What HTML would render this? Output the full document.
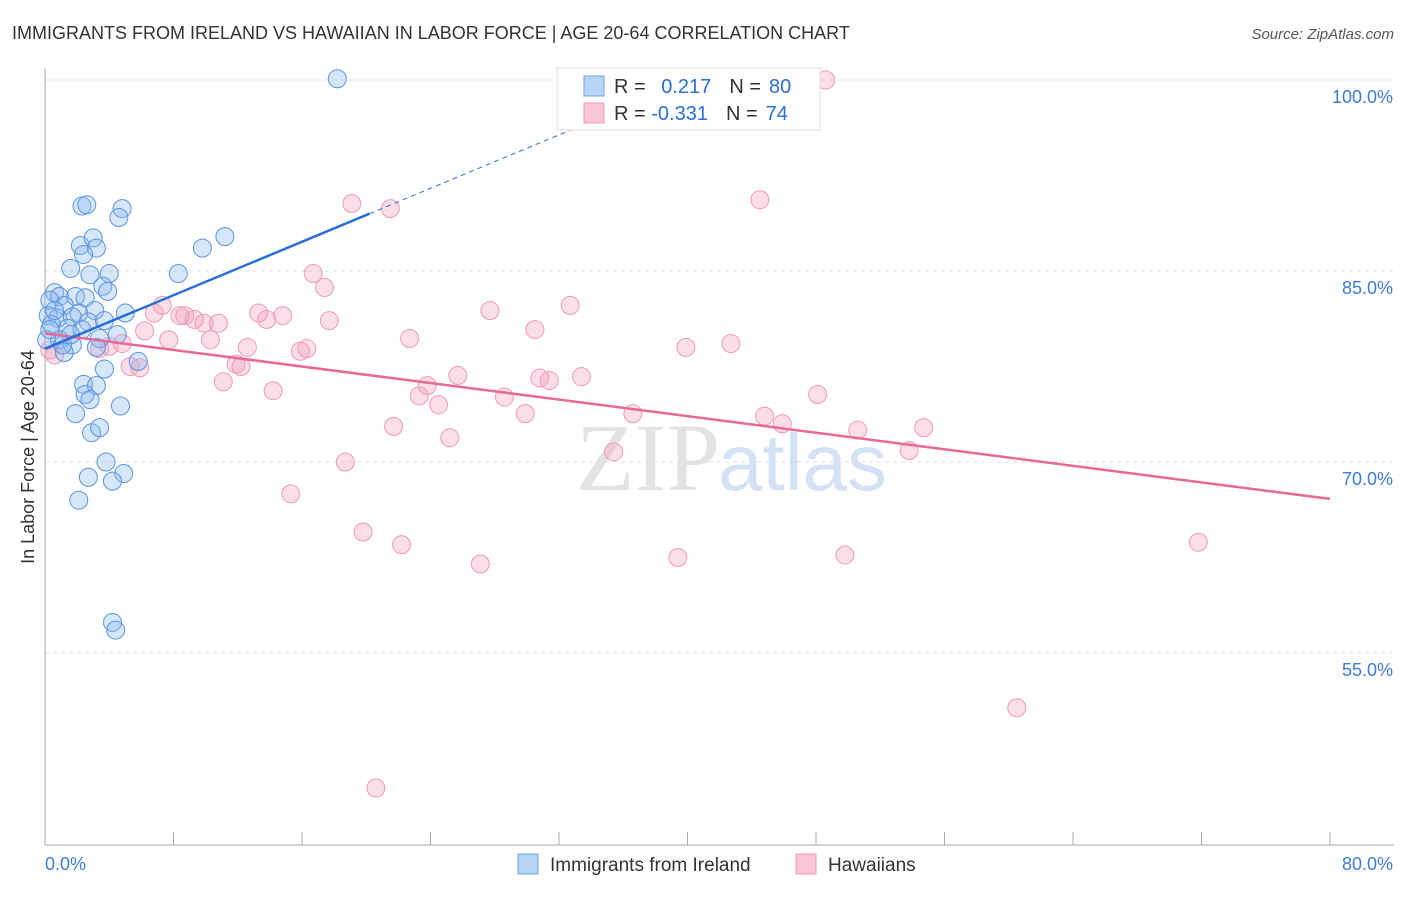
<!DOCTYPE html>
<html><head><meta charset="utf-8"><style>
body{margin:0;background:#fff;font-family:"Liberation Sans",sans-serif}
</style></head><body>
<svg id="chart" width="1406" height="892" xmlns="http://www.w3.org/2000/svg" font-family="Liberation Sans, sans-serif">
<text x="12" y="39" font-size="18" fill="#333">IMMIGRANTS FROM IRELAND VS HAWAIIAN IN LABOR FORCE | AGE 20-64 CORRELATION CHART</text>
<text x="1394" y="39" font-size="15" fill="#555" text-anchor="end" font-style="italic">Source: ZipAtlas.com</text>
<text transform="translate(34,457) rotate(-90)" font-size="18" fill="#333" text-anchor="middle">In Labor Force | Age 20-64</text>
<text x="720" y="490" font-size="96" fill="#ddd" text-anchor="end" font-family="Liberation Serif, serif" opacity="0.8">ZIP</text>
<text x="718" y="490" font-size="80" fill="#c9dbf2" opacity="0.8">atlas</text>
<g id="grid"></g><g id="axes"></g><g id="pts"></g><g id="lines"></g>
<g>
<rect x="557" y="68" width="263" height="62" fill="#fff" stroke="#ddd"/>
<rect x="584" y="76" width="20" height="20" fill="#b8d4f6" stroke="#6fa3e6"/>
<rect x="584" y="103" width="20" height="20" fill="#f9c7d6" stroke="#ef9ab4"/>
<text x="614" y="93" font-size="20" fill="#333">R = <tspan fill="#2a6fd6" dx="10">0.217</tspan><tspan dx="18">N =</tspan><tspan fill="#2a6fd6" dx="8">80</tspan></text>
<text x="614" y="120" font-size="20" fill="#333">R = <tspan fill="#2a6fd6">-0.331</tspan><tspan dx="18">N =</tspan><tspan fill="#2a6fd6" dx="8">74</tspan></text>
</g>
<g>
<rect x="518" y="854" width="20" height="20" fill="#b8d4f6" stroke="#6fa3e6"/>
<text x="550" y="871" font-size="19" fill="#333">Immigrants from Ireland</text>
<rect x="796" y="854" width="20" height="20" fill="#f9c7d6" stroke="#ef9ab4"/>
<text x="828" y="871" font-size="19" fill="#333">Hawaiians</text>
</g>
</svg>
<script>
const yTicks=[100,85,70,55];
const xTickLabels=["0.0%","80.0%"];
const blueX=[18.2,2.3,2.6,4.8,4.6,11.2,9.8,2.2,3.0,3.2,2.4,1.6,4.0,2.8,8.3,3.6,3.9,0.6,0.9,1.9,2.5,0.3,1.2,5.0,2.1,3.1,0.2,0.8,1.7,2.7,3.7,0.4,1.4,2.3,4.5,3.4,0.9,1.7,3.2,1.2,5.8,3.7,2.4,3.2,2.5,2.8,4.7,1.9,2.9,3.4,3.8,4.9,2.7,4.2,2.1,4.2,4.4,0.1,0.3,1.1,0.6,1.6];
const blueY=[100.1,90.1,90.2,89.9,89.2,87.7,86.8,87.0,87.6,86.8,86.3,85.2,84.8,84.7,84.8,83.8,83.4,83.3,83.0,83.0,82.9,82.7,82.3,81.7,81.7,81.9,81.5,81.3,81.4,81.0,81.1,80.8,80.5,80.4,80.0,79.7,79.6,79.2,79.0,78.6,77.9,77.3,76.1,76.0,75.3,74.9,74.4,73.8,72.3,72.7,70.0,69.1,68.8,68.5,67.0,57.4,56.8,79.6,80.4,79.2,81.9,80.0];
const pinkX=[48.6,19.1,21.5,44.5,16.7,17.4,32.7,27.7,7.3,6.8,8.4,8.7,9.3,9.9,10.8,13.3,13.8,14.8,17.7,30.5,6.2,7.7,10.3,12.6,15.9,16.3,22.7,39.9,42.7,4.8,4.0,3.4,0.6,0.3,5.3,5.9,11.9,12.2,11.1,14.2,23.8,25.7,23.3,24.5,28.6,30.8,31.4,33.4,48.1,36.6,29.9,44.8,45.9,50.6,54.7,53.8,21.7,25.2,35.4,18.7,15.3,19.8,22.2,27.1,39.4,49.8,71.8,60.5,20.6];
const pinkY=[100,90.3,89.9,90.6,84.8,83.7,82.3,81.9,82.3,81.7,81.5,81.5,81.2,80.9,80.9,81.7,81.2,81.5,81.1,80.4,80.3,79.6,79.6,79.0,78.7,78.9,79.7,79.0,79.3,79.3,79.1,78.9,78.4,78.8,77.5,77.4,77.7,77.5,76.3,75.6,76.0,76.8,75.2,74.5,75.1,76.6,76.4,76.7,75.3,73.8,73.8,73.6,73.0,72.5,72.7,70.9,72.8,71.9,70.8,70.0,67.5,64.5,63.5,62.0,62.5,62.7,63.7,50.7,44.4];
const ox=45,sx=(1330-45)/80,y100=80,sy=(271-80)/15;
const X=v=>ox+v*sx, Y=v=>y100+(100-v)*sy;
const NS="http://www.w3.org/2000/svg";
function mk(tag,attrs,parent){const e=document.createElementNS(NS,tag);for(const k in attrs)e.setAttribute(k,attrs[k]);document.getElementById(parent).appendChild(e);return e;}
yTicks.forEach(v=>{
 const l=mk('line',{x1:45,x2:1394,y1:Y(v),y2:Y(v),stroke:'#ddd','stroke-dasharray':'4,4'},'grid');
 
 
 const t=mk('text',{x:1393,y:Y(v)+23,'font-size':18,fill:'#3f7bd9','text-anchor':'end'},'grid');
 t.textContent=v.toFixed(1)+'%';
 
 
});
let a=mk('line',{x1:45,x2:45,y1:68,y2:845,stroke:'#aaa'},'axes');


a=mk('line',{x1:45,x2:1394,y1:845,y2:845,stroke:'#aaa'},'axes');


for(let i=0;i<=10;i++){const t=mk('line',{x1:X(i*8),x2:X(i*8),y1:832,y2:845,stroke:'#aaa'},'axes');
 
 }
let t=mk('text',{x:45,y:870,'font-size':18,fill:'#3f7bd9'},'axes');t.textContent=xTickLabels[0];


t=mk('text',{x:1393,y:870,'font-size':18,fill:'#3f7bd9','text-anchor':'end'},'axes');t.textContent=xTickLabels[1];


pinkX.forEach((x,i)=>{const c=mk('circle',{cx:X(x),cy:Y(pinkY[i]),r:9,fill:'rgba(244,160,188,0.35)',stroke:'#ef9ab4','stroke-width':1},'pts');
 
 });
blueX.forEach((x,i)=>{const c=mk('circle',{cx:X(x),cy:Y(blueY[i]),r:9,fill:'rgba(140,185,240,0.35)',stroke:'#5b93e0','stroke-width':1},'pts');
 
 });
let l=mk('line',{x1:X(0),y1:Y(80.1),x2:X(80),y2:Y(67.1),stroke:'#e8689a','stroke-width':2.5},'lines');


l=mk('line',{x1:X(0),y1:Y(78.9),x2:X(20.2),y2:Y(89.5),stroke:'#2a6fd6','stroke-width':2.5},'lines');


l=mk('line',{x1:X(20.2),y1:Y(89.5),x2:X(34.5),y2:Y(97.0),stroke:'#2a6fd6','stroke-width':1,'stroke-dasharray':'5,4'},'lines');


</script>
</body></html>
